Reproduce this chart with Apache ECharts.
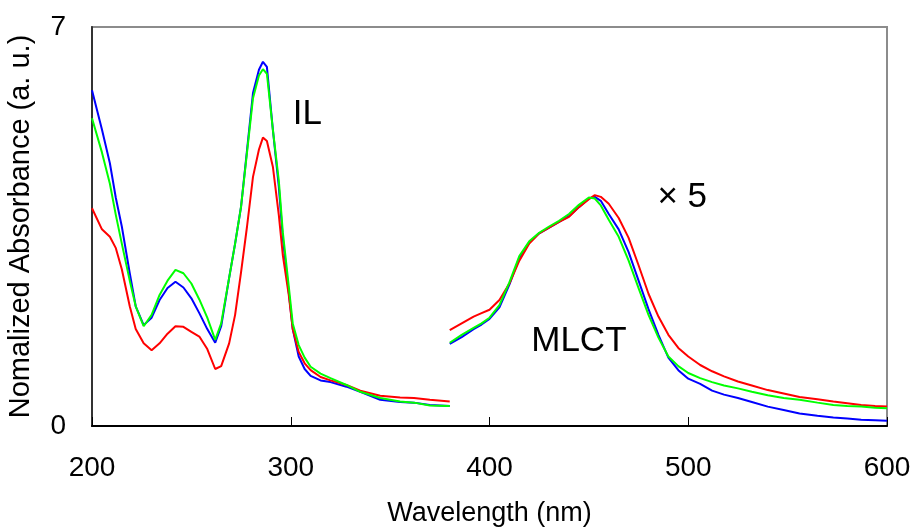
<!DOCTYPE html>
<html>
<head>
<meta charset="utf-8">
<script src="https://cdn.jsdelivr.net/npm/echarts@6/dist/echarts.min.js"></script>
<style>
html,body{margin:0;padding:0;background:#fff;}
#chart{width:913px;height:527px;}
</style>
</head>
<body>
<div id="chart"></div>
<script>
// Wavelengths (nm), UV segment (IL band region)
var wlUV = [200,205,209,212,215,219,222,226,230,234,238,242,246,250,254,258,262,265,269,272,275,278,281,284,286,288,291,294,296,299,301,304,307,310,315,320,328,335,345,355,362,370,380];
var blueUV = [5.89,5.2,4.61,4.0,3.5,2.68,2.1,1.77,1.9,2.21,2.42,2.53,2.43,2.24,1.98,1.7,1.46,1.75,2.6,3.2,3.85,4.84,5.84,6.25,6.39,6.3,5.2,4.2,3.3,2.35,1.7,1.22,1.0,0.88,0.8,0.77,0.69,0.6,0.46,0.42,0.41,0.37,0.35];
var greenUV = [5.40,4.8,4.25,3.7,3.2,2.55,2.1,1.75,1.95,2.3,2.55,2.74,2.68,2.5,2.22,1.9,1.51,1.8,2.6,3.2,3.85,4.8,5.75,6.15,6.26,6.18,5.2,4.3,3.4,2.45,1.8,1.42,1.2,1.04,0.92,0.84,0.72,0.6,0.49,0.43,0.41,0.36,0.35];
var redUV = [3.82,3.45,3.32,3.12,2.75,2.1,1.7,1.45,1.33,1.45,1.62,1.75,1.74,1.65,1.57,1.35,1.0,1.05,1.45,1.95,2.7,3.5,4.37,4.85,5.06,5.0,4.55,3.7,3.0,2.3,1.7,1.3,1.1,0.98,0.86,0.8,0.72,0.62,0.53,0.5,0.49,0.46,0.43];

// Wavelengths (nm), visible segment (MLCT band, x5)
var wlVis = [380,386,392,396,400,405,410,415,420,425,430,435,440,445,450,453,456,460,465,470,475,480,485,490,495,500,506,512,518,525,532,540,548,556,565,573,580,587,594,600];
var redVis = [1.68,1.8,1.92,1.98,2.04,2.21,2.5,2.9,3.2,3.38,3.48,3.58,3.67,3.84,3.98,4.05,4.02,3.9,3.65,3.3,2.82,2.32,1.92,1.6,1.37,1.22,1.07,0.96,0.87,0.78,0.71,0.63,0.57,0.51,0.47,0.43,0.4,0.37,0.35,0.34];
var blueVis = [1.44,1.56,1.7,1.78,1.88,2.08,2.48,2.95,3.22,3.38,3.48,3.58,3.68,3.84,3.99,4.02,3.95,3.72,3.45,3.05,2.55,2.05,1.6,1.2,0.98,0.83,0.74,0.62,0.55,0.49,0.42,0.34,0.28,0.22,0.18,0.15,0.13,0.11,0.1,0.09];
var greenVis = [1.46,1.6,1.72,1.8,1.9,2.12,2.52,2.98,3.24,3.39,3.5,3.6,3.72,3.88,4.01,3.99,3.87,3.62,3.32,2.9,2.42,1.95,1.55,1.22,1.05,0.93,0.84,0.77,0.71,0.66,0.6,0.54,0.49,0.46,0.41,0.37,0.35,0.34,0.32,0.31];

var xTicks = [200,300,400,500,600];
var yTicks = [0,7];

// Annotation texts and their data anchors
var notes = [
  {text:'IL', wl:301, val:5.46},
  {text:'MLCT', wl:421, val:1.49},
  {text:'\u00d7 5', wl:484.5, val:4.02}
];

function zip(xs, ys){ return xs.map(function(x,i){ return [x, ys[i]]; }); }

var FONT = "'Liberation Sans', Arial, sans-serif";
var chart = echarts.init(document.getElementById('chart'));

function mk(name, color, xs, ys, z){
  return {type:'line', name:name, data:zip(xs, ys), showSymbol:false, symbol:'none',
    lineStyle:{color:color, width:2}, itemStyle:{color:color}, z:z, silent:true, animation:false};
}

chart.setOption({
  animation:false,
  backgroundColor:'#fff',
  grid:{left:92, right:26, top:27, bottom:101, outerBoundsMode:'none', containLabel:false,
    show:true, borderColor:'#8c8c8c', borderWidth:2, backgroundColor:'transparent'},
  xAxis:{type:'value', min:xTicks[0], max:xTicks[xTicks.length-1], interval:100,
    name:'Wavelength (nm)', nameLocation:'middle', nameGap:74,
    nameTextStyle:{fontSize:27, color:'#000', fontFamily:FONT},
    axisLine:{show:true, onZero:false, lineStyle:{color:'#000', width:2}},
    axisTick:{show:true, inside:true, length:9, lineStyle:{color:'#000', width:1}},
    axisLabel:{fontSize:28, color:'#000', margin:28, fontFamily:FONT},
    splitLine:{show:false}},
  yAxis:{type:'value', min:yTicks[0], max:yTicks[1], interval:7,
    name:'Nomalized Absorbance (a. u.)', nameLocation:'middle', nameGap:57,
    nameTextStyle:{fontSize:29, color:'#000', fontFamily:FONT},
    axisLine:{show:true, lineStyle:{color:'#333', width:2}},
    axisTick:{show:false},
    axisLabel:{fontSize:28, color:'#000', margin:26, fontFamily:FONT},
    splitLine:{show:false}},
  series:[
    mk('blue', '#0000ff', wlUV, blueUV, 2),
    mk('red', '#ff0000', wlUV, redUV, 3),
    mk('green', '#00ff00', wlUV, greenUV, 4),
    mk('blue vis', '#0000ff', wlVis, blueVis, 2),
    mk('red vis', '#ff0000', wlVis, redVis, 3),
    mk('green vis', '#00ff00', wlVis, greenVis, 4)
  ]
});

var g = notes.map(function(n){
  var p = chart.convertToPixel({gridIndex:0}, [n.wl, n.val]);
  return {type:'text', x:p[0], y:p[1], z:10,
    style:{text:n.text, fontSize:35, fill:'#000', fontFamily:FONT, verticalAlign:'middle', align:'left'}};
});
chart.setOption({graphic:g});
</script>
</body>
</html>
